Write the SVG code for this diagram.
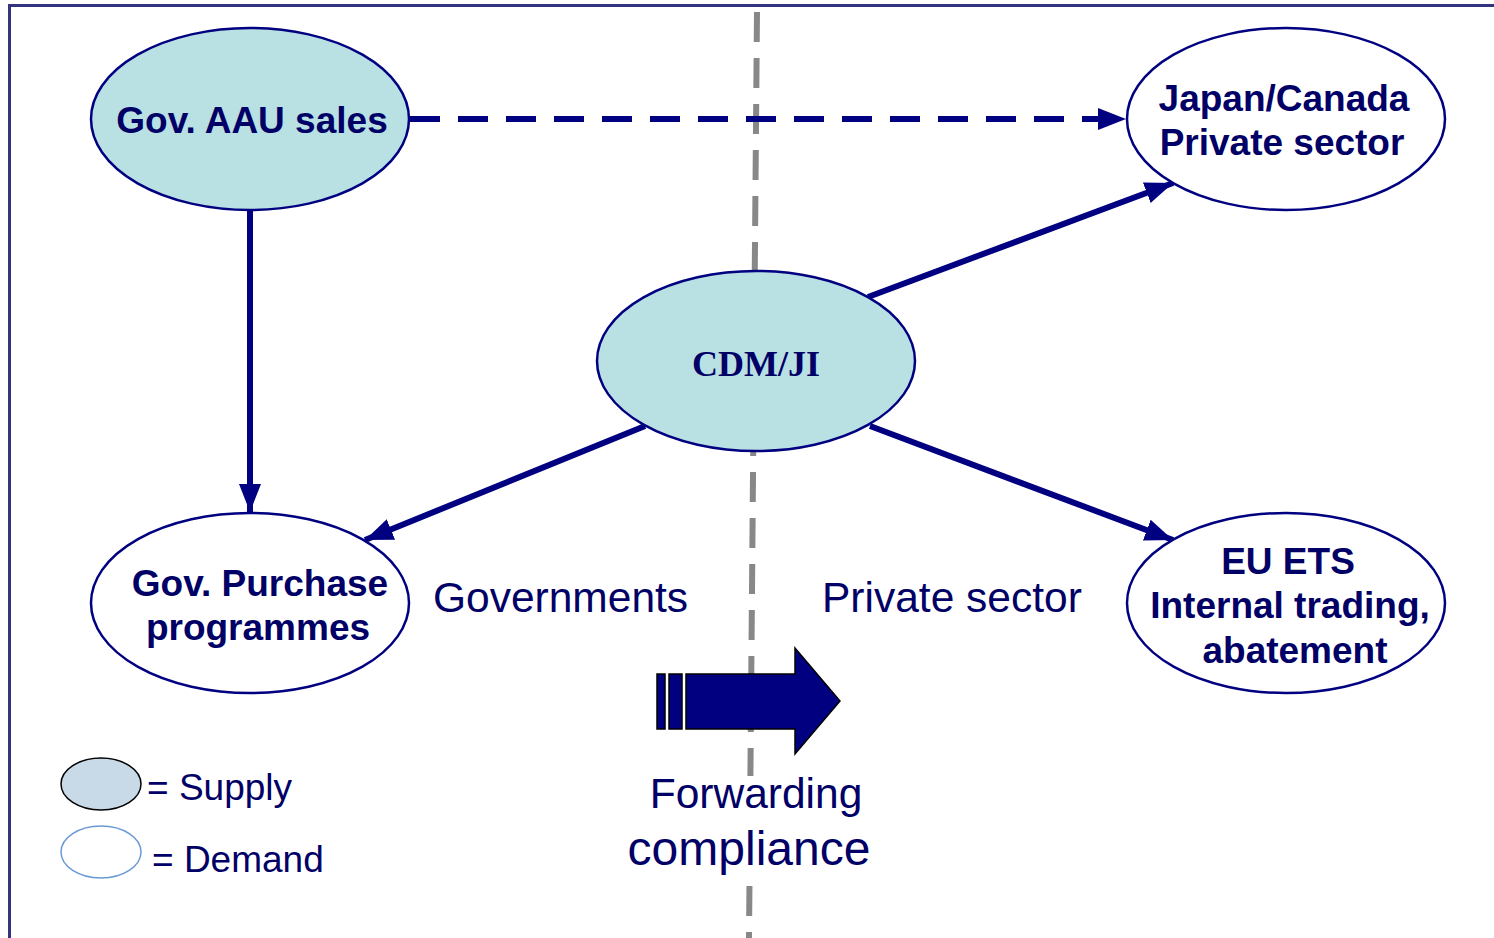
<svg xmlns="http://www.w3.org/2000/svg" width="1494" height="938" viewBox="0 0 1494 938">
<style>
.sup{fill:#b9e0e3;stroke:#000080;stroke-width:2.5}
.dem{fill:#ffffff;stroke:#000080;stroke-width:2.5}
.lbl{font-family:"Liberation Sans",Arial,sans-serif;font-weight:bold;font-size:37px;fill:#000066;text-anchor:middle}
.txt{font-family:"Liberation Sans",Arial,sans-serif;fill:#000066}
.con{stroke:#000080;stroke-width:6;fill:none}
</style>
<defs>
<marker id="ah" markerUnits="userSpaceOnUse" markerWidth="30" markerHeight="30" viewBox="0 0 30 30" refX="28" refY="15" orient="auto">
<path d="M0,4 L28,15 L0,26 Z" fill="#000080"/>
</marker>
</defs>
<rect x="0" y="0" width="1494" height="938" fill="#ffffff"/>
<rect x="9.5" y="5.5" width="1500" height="950" fill="none" stroke="#33337f" stroke-width="3"/>
<line x1="757" y1="12" x2="749" y2="938" stroke="#888888" stroke-width="6" stroke-dasharray="30,16"/>
<g id="connectors">
<line class="con" x1="410" y1="119" x2="1126" y2="119" stroke-dasharray="30,18" marker-end="url(#ah)"/>
<line class="con" x1="250" y1="210" x2="250" y2="512" marker-end="url(#ah)"/>
<line class="con" x1="645" y1="426" x2="365" y2="540" marker-end="url(#ah)"/>
<line class="con" x1="868" y1="297" x2="1173" y2="183" marker-end="url(#ah)"/>
<line class="con" x1="870" y1="426" x2="1173" y2="540" marker-end="url(#ah)"/>
</g>
<g id="gov-aau">
<ellipse class="sup" cx="250" cy="119" rx="159" ry="91"/>
<text class="lbl" x="252" y="133">Gov. AAU sales</text>
</g>
<g id="japan-canada">
<ellipse class="dem" cx="1286" cy="119" rx="159" ry="91"/>
<text class="lbl" x="1284" y="111">Japan/Canada</text>
<text class="lbl" x="1282" y="155">Private sector</text>
</g>
<g id="cdm-ji">
<ellipse class="sup" cx="756" cy="361" rx="159" ry="90"/>
<text x="756" y="376" font-family="'Liberation Serif','Times New Roman',serif" font-weight="bold" font-size="36" fill="#000066" text-anchor="middle">CDM/JI</text>
</g>
<g id="gov-purchase">
<ellipse class="dem" cx="250" cy="603" rx="159" ry="90"/>
<text class="lbl" x="260" y="596">Gov. Purchase</text>
<text class="lbl" x="258" y="640">programmes</text>
</g>
<g id="eu-ets">
<ellipse class="dem" cx="1286" cy="603" rx="159" ry="90"/>
<text class="lbl" x="1288" y="574">EU ETS</text>
<text class="lbl" x="1290" y="618">Internal trading,</text>
<text class="lbl" x="1295" y="663">abatement</text>
</g>
<text class="txt" x="433" y="612" font-size="42.5">Governments</text>
<text class="txt" x="822" y="612" font-size="42.5">Private sector</text>
<g id="forward-arrow" fill="#000080" stroke="#000000" stroke-width="1.5">
<rect x="657" y="674" width="8" height="55"/>
<rect x="669" y="674" width="13" height="55"/>
<path d="M686,674 L795,674 L795,648 L840,701 L795,754 L795,729 L686,729 Z"/>
</g>
<g id="forwarding-label">
<rect x="626" y="776" width="246" height="99" fill="#ffffff"/>
<text class="txt" x="756" y="808" text-anchor="middle" font-size="42.5">Forwarding</text>
<text class="txt" x="749" y="865" text-anchor="middle" font-size="48">compliance</text>
</g>
<g id="legend">
<ellipse cx="101" cy="784" rx="40" ry="26" fill="#c8d9e8" stroke="#000000" stroke-width="1.5"/>
<text class="txt" x="147" y="800" font-size="37">= Supply</text>
<ellipse cx="101" cy="852" rx="40" ry="26" fill="#ffffff" stroke="#6a9ad6" stroke-width="1.5"/>
<text class="txt" x="152" y="872" font-size="37">= Demand</text>
</g>
</svg>
